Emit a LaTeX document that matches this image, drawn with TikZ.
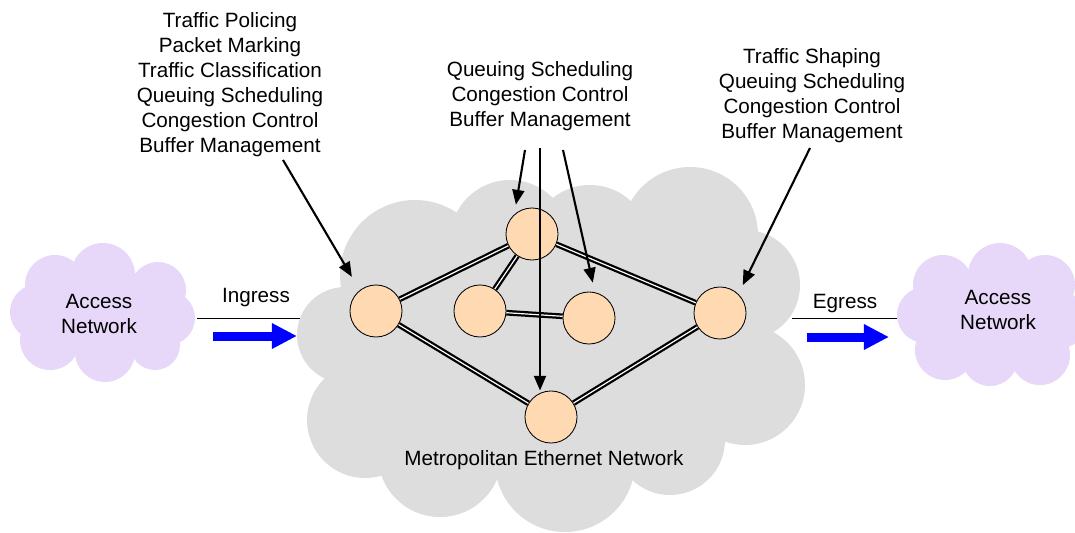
\documentclass[tikz,border=0pt]{standalone}
\usepackage{fontspec}
\setmainfont{Liberation Sans}
\usepackage{tikz}
\usetikzlibrary{arrows.meta}
\usetikzlibrary{positioning}

\definecolor{metrogrey}{RGB}{221,221,221}
\definecolor{accesslilac}{RGB}{231,216,250}
\definecolor{routerpeach}{RGB}{255,217,178}

\begin{document}
\begin{tikzpicture}[
        x=0.025cm, y=-0.025cm,
        router/.style={circle, draw, line width=0.6pt, fill=routerpeach, minimum size=37pt, inner sep=0pt},
        link/.style={double=white, double distance=0.85pt, line width=1.6pt},
        pointer/.style={-{Triangle[length=10.5pt,width=8.5pt]}, line width=1.5pt},
        flow/.style={-{Triangle[length=17.8pt,width=17pt]}, line width=6.4pt, blue},
        tasks/.style={font=\fontsize{14.7}{17.8}\selectfont, align=center, inner sep=0pt},
    ]
    \useasboundingbox (0,0) rectangle (1075,532);
    % clouds
    \foreach \cx/\cy/\r in {345/335/48, 365/420/58, 440/455/62, 565/462/70, 670/440/55,
            745/385/60, 745/285/55, 690/235/68, 590/245/60, 510/240/60, 415/275/75}
        \fill[metrogrey] (\cx,\cy) circle[radius=\r];
    \fill[metrogrey] (555,345) ellipse[x radius=220, y radius=130];
    \foreach \cx/\cy/\r in {55/285/30, 103/275/32, 158/290/28, 168/318/27, 155/345/25,
            105/352/30, 50/340/30, 38/312/28}
        \fill[accesslilac] (\cx,\cy) circle[radius=\r];
    \fill[accesslilac] (103,313) ellipse[x radius=70, y radius=45];
    \foreach \cx/\cy/\r in {943/285/30, 1000/275/32, 1045/285/30, 1060/320/28, 1040/355/30,
            990/358/28, 945/350/30, 925/315/28}
        \fill[accesslilac] (\cx,\cy) circle[radius=\r];
    \fill[accesslilac] (995,315) ellipse[x radius=75, y radius=45];

    \node[tasks, anchor=north] (accl) at (99,294) {Access\\Network};
    \node[tasks, anchor=north] (accr) at (998,290) {Access\\Network};
    \node[tasks, anchor=base] (metro) at (544,465) {Metropolitan Ethernet Network};

    % routers
    \node[router] (ine) at (376,311) {};
    \node[router] (hub) at (532,234) {};
    \node[router] (mid1) at (480,311) {};
    \node[router] (mid2) at (589,318) {};
    \node[router] (oute) at (720,313) {};
    \node[router] (low) at (551,417) {};
    \draw[link] (ine) -- (hub);
    \draw[link] (ine) -- (low);
    \draw[link] (hub) -- (oute);
    \draw[link] (oute) -- (low);
    \draw[link] (hub) -- (mid1);
    \draw[link] (mid1) -- (mid2);

    % ingress / egress
    \coordinate (ingl) at (197,318);
    \coordinate (ingr) at (300,318);
    \coordinate (ingfrom) at (213,336);
    \coordinate (ingto) at (297,336);
    \coordinate (egrl) at (792,318);
    \coordinate (egrr) at (897,318);
    \coordinate (egrfrom) at (807,337);
    \coordinate (egrto) at (889,337);
    \draw[line width=0.7pt] (ingl) -- (ingr);
    \draw[line width=0.7pt] (egrl) -- (egrr);
    \draw[flow] (ingfrom) -- (ingto);
    \draw[flow] (egrfrom) -- (egrto);
    \node[tasks, anchor=base] (ingtxt) at (256,302) {Ingress};
    \node[tasks, anchor=base] (egrtxt) at (845,308) {Egress};

    % functions
    \node[tasks, anchor=north] (policing) at (230,12.5) {Traffic Policing\\Packet Marking\\Traffic Classification\\Queuing Scheduling\\Congestion Control\\Buffer Management};
    \node[tasks, anchor=north] (corefn) at (540,61) {Queuing Scheduling\\Congestion Control\\Buffer Management};
    \node[tasks, anchor=north] (shaping) at (812,48.5) {Traffic Shaping\\Queuing Scheduling\\Congestion Control\\Buffer Management};
    \coordinate (polfrom) at (283,160);
    \coordinate (corefrom1) at (525,150);
    \coordinate (corefrom2) at (540,148);
    \coordinate (corefrom3) at (563,150);
    \coordinate (shfrom) at (810,148);
    \draw[pointer, shorten >=11pt] (polfrom) -- (ine.128);
    \draw[pointer, shorten >=7pt] (corefrom1) -- (hub.132);
    \draw[pointer] (corefrom2) -- (corefrom2 |- low.north);
    \draw[pointer, shorten >=7pt] (corefrom3) -- (mid2.77);
    \draw[pointer, shorten >=7pt] (shfrom) -- (oute.46);
\end{tikzpicture}
\end{document}
